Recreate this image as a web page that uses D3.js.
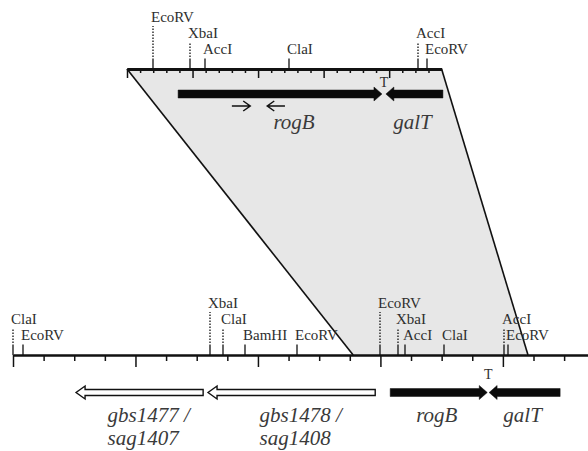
<!DOCTYPE html>
<html>
<head>
<meta charset="utf-8">
<script src="https://cdn.jsdelivr.net/npm/d3@7"></script>
<style>
  body { margin: 0; background: #fff; }
  svg text { font-family: "Liberation Serif", "Times New Roman", serif; fill: #2e2e2e; }
</style>
</head>
<body>
<svg id="map" width="588" height="451"></svg>
<script>
// top map is in 100 bp steps, bottom map in kb steps
var topTicks = d3.range(0, 24);
var botTicks = d3.range(0, 19);

// restriction sites, level = label row above the line
var topSites = [
  {name: "EcoRV", pos: 2.0, level: 2},
  {name: "XbaI", pos: 4.8, level: 1},
  {name: "AccI", pos: 5.95, level: 0},
  {name: "ClaI", pos: 12.35, level: 0},
  {name: "AccI", pos: 22.2, level: 1},
  {name: "EcoRV", pos: 22.9, level: 0}
];
var botSites = [
  {name: "ClaI", pos: 0.0, level: 1},
  {name: "EcoRV", pos: 0.33, level: 0},
  {name: "XbaI", pos: 6.44, level: 2},
  {name: "ClaI", pos: 6.86, level: 1},
  {name: "BamHI", pos: 7.58, level: 0},
  {name: "EcoRV", pos: 9.28, level: 0},
  {name: "EcoRV", pos: 12.0, level: 2},
  {name: "XbaI", pos: 12.58, level: 1},
  {name: "AccI", pos: 12.81, level: 0},
  {name: "ClaI", pos: 14.08, level: 0},
  {name: "AccI", pos: 16.04, level: 1},
  {name: "EcoRV", pos: 16.17, level: 0}
];

// genes: start -> tip (arrow points to tip)
var topGenes = [
  {name: "rogB", start: 3.9, tip: 19.45, filled: true},
  {name: "galT", start: 24.1, tip: 19.75, filled: true}
];
var botGenes = [
  {name: "gbs1477 /", name2: "sag1407", start: 6.21, tip: 2.06, filled: false},
  {name: "gbs1478 /", name2: "sag1408", start: 11.83, tip: 6.37, filled: false},
  {name: "rogB", start: 12.32, tip: 15.49, filled: true},
  {name: "galT", start: 17.87, tip: 15.55, filled: true}
];
var primers = [
  {start: 8.0, end: 9.4},
  {start: 12.05, end: 10.7}
];
var terminators = {top: 19.6, bottom: 15.52};

// cloned region: whole top map onto this stretch of the bottom map
var topSpan = [0, 24];
var botSpan = [11.11, 16.82];

var svg = d3.select("#map");
var topY = 69, botY = 355;

var xTop = d3.scaleLinear().domain([0, 24]).range([127, 441.6]);
var xBot = d3.scaleLinear().domain([0, 18.78]).range([13, 588]);

// shaded trapezoid
var trap = [
  [xTop(topSpan[0]), topY], [xTop(topSpan[1]), topY],
  [xBot(botSpan[1]), botY], [xBot(botSpan[0]), botY]
];
svg.append("path")
  .attr("d", "M" + trap.join("L") + "Z")
  .attr("fill", "#e7e7e7");
svg.append("line")
  .attr("x1", trap[0][0]).attr("y1", trap[0][1])
  .attr("x2", trap[3][0]).attr("y2", trap[3][1])
  .attr("stroke", "#111").attr("stroke-width", 1.6);
svg.append("line")
  .attr("x1", trap[1][0]).attr("y1", trap[1][1])
  .attr("x2", trap[2][0]).attr("y2", trap[2][1])
  .attr("stroke", "#111").attr("stroke-width", 1.6);

function drawAxis(scale, y, ticks, majorEvery, lineW, minorLen, majorLen){
  var g = svg.append("g").attr("transform", "translate(0," + y + ")");
  g.append("g")
    .call(d3.axisBottom(scale)
      .tickValues(ticks.filter(function(d){ return d % majorEvery != 0; }))
      .tickSize(minorLen).tickSizeOuter(0).tickFormat(""));
  g.append("g")
    .call(d3.axisBottom(scale)
      .tickValues(ticks.filter(function(d){ return d % majorEvery == 0; }))
      .tickSize(majorLen).tickSizeOuter(0).tickFormat(""));
  g.selectAll(".domain").attr("stroke", "#111").attr("stroke-width", lineW);
  g.selectAll(".tick line").attr("stroke", "#111").attr("stroke-width", 1.5);
  return g;
}
drawAxis(xTop, topY, topTicks, 5, 3, 4, 9);
drawAxis(xBot, botY, botTicks, 4, 2, 6, 12);

function drawSites(scale, y, sites){
  var g = svg.append("g");
  var s = g.selectAll("g").data(sites).enter().append("g")
    .attr("transform", function(d){ return "translate(" + Math.round(scale(d.pos)) + ",0)"; });
  var base = function(d){ return y - 15 - 16 * d.level; };
  s.append("line")
    .attr("y1", y).attr("y2", y - 9)
    .attr("stroke", "#111").attr("stroke-width", 1.3);
  s.append("line")
    .attr("y1", y - 9).attr("y2", function(d){ return base(d) + 4; })
    .attr("stroke", "#111").attr("stroke-width", 1.3)
    .attr("stroke-dasharray", "1.5,1.5");
  s.append("text")
    .attr("x", -2).attr("y", base)
    .attr("font-size", 15)
    .text(function(d){ return d.name; });
}
drawSites(xTop, topY, topSites);
drawSites(xBot, botY, botSites);

function arrowPath(x0, x1, cy, bodyH, headH, headL){
  var dir = x1 > x0 ? 1 : -1;
  var hb = x1 - dir * headL;
  return "M" + x0 + "," + (cy - bodyH / 2) +
    "L" + hb + "," + (cy - bodyH / 2) +
    "L" + hb + "," + (cy - headH / 2) +
    "L" + x1 + "," + cy +
    "L" + hb + "," + (cy + headH / 2) +
    "L" + hb + "," + (cy + bodyH / 2) +
    "L" + x0 + "," + (cy + bodyH / 2) + "Z";
}

function drawGenes(scale, cy, genes){
  svg.append("g").selectAll("path").data(genes).enter().append("path")
    .attr("d", function(d){
      if(d.filled)
        return arrowPath(scale(d.start), scale(d.tip), cy, 8, 14, 8);
      return arrowPath(scale(d.start), scale(d.tip), cy, 6, 13, 9);
    })
    .attr("fill", function(d){ return d.filled ? "#0a0a0a" : "#fff"; })
    .attr("stroke", "#111")
    .attr("stroke-width", function(d){ return d.filled ? 0.5 : 1.4; })
    .attr("stroke-linejoin", "miter");
}
drawGenes(xTop, 94, topGenes);
drawGenes(xBot, 392.5, botGenes);

// primer arrows
var pg = svg.append("g").attr("stroke", "#111").attr("stroke-width", 1.5).attr("fill", "none");
primers.forEach(function(p){
  var a = xTop(p.start), b = xTop(p.end), y = 106, dir = b > a ? 1 : -1;
  pg.append("path").attr("d", "M" + a + "," + y + "H" + b +
    "M" + (b - dir * 7) + "," + (y - 5) + "L" + b + "," + y + "L" + (b - dir * 7) + "," + (y + 5));
});

// terminators
svg.append("text").attr("x", xTop(terminators.top)).attr("y", 87)
  .attr("text-anchor", "middle").attr("font-size", 14).text("T");
svg.append("text").attr("x", xBot(terminators.bottom)).attr("y", 379)
  .attr("text-anchor", "middle").attr("font-size", 14).text("T");

// gene names
svg.selectAll(".tlab").data(topGenes).enter().append("text")
  .attr("class", "tlab")
  .attr("x", function(d, i){ return (xTop(d.start) + xTop(d.tip)) / 2 + (i == 0 ? 14 : -2); })
  .attr("y", 129)
  .attr("text-anchor", "middle")
  .attr("font-size", 21).attr("font-style", "italic")
  .style("fill", "#3a3a3a")
  .text(function(d){ return d.name; });

var bl = svg.selectAll(".blab").data(botGenes).enter().append("text")
  .attr("class", "blab")
  .attr("font-size", 21).attr("font-style", "italic")
  .style("fill", "#3a3a3a")
  .attr("text-anchor", function(d){ return d.name2 ? "start" : "middle"; })
  .attr("transform", function(d){
    var c = (xBot(d.start) + xBot(d.tip)) / 2;
    return "translate(" + (d.name2 ? c - 32 : c - 2) + ",422)";
  });
bl.append("tspan").attr("x", 0).attr("y", 0).text(function(d){ return d.name; });
bl.append("tspan").attr("x", 0).attr("y", 23).text(function(d){ return d.name2 || ""; });
</script>
</body>
</html>
